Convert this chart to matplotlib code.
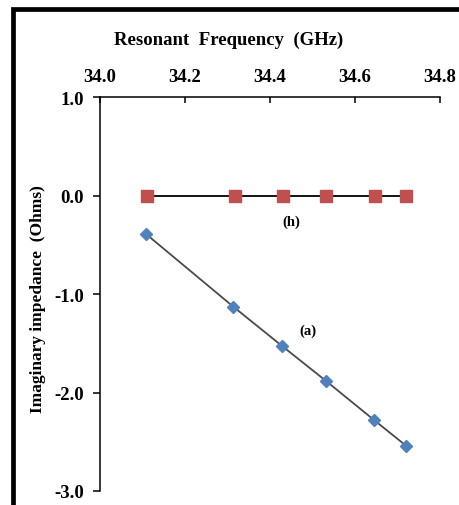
import matplotlib
matplotlib.use("Agg")
import matplotlib.pyplot as plt
from matplotlib.patches import Rectangle
from matplotlib.ticker import FormatStrFormatter

plt.rcParams['font.family'] = ['Liberation Serif', 'DejaVu Serif']
plt.rcParams['axes.unicode_minus'] = False

freq_h = [34.11, 34.318, 34.431, 34.532, 34.647, 34.72]
imag_h = [0.0, 0.0, 0.0, 0.0, 0.0, 0.0]
freq_a = [34.108, 34.314, 34.429, 34.531, 34.645, 34.72]
imag_a = [-0.39, -1.13, -1.53, -1.88, -2.28, -2.54]
x_ticks = [34.0, 34.2, 34.4, 34.6, 34.8]
y_ticks = [1.0, 0.0, -1.0, -2.0, -3.0]

W, H = 460, 506
fig = plt.figure(figsize=(W / 100, H / 100), dpi=100)
fig.patch.set_facecolor('white')

# thick outer frame
fig.add_artist(Rectangle((13 / W, -0.1), 1.2, 1 - 10 / H + 0.1,
                         transform=fig.transFigure, fill=False,
                         edgecolor='black', linewidth=3.4))

ax = fig.add_axes([100 / W, 14 / H, 340 / W, 394 / H])
ax.set_xlim(34.0, 34.8)
ax.set_ylim(-3.0, 1.0)

ax.plot(freq_h, imag_h, color='black', linewidth=1.3, marker='s',
        markersize=9, markerfacecolor='#C0504D', markeredgecolor='#C0504D',
        zorder=3)
ax.plot(freq_a, imag_a, color='#4a4a4a', linewidth=1.3, marker='D',
        markersize=6.6, markerfacecolor='#4F81BD', markeredgecolor='#4F81BD',
        zorder=3)

ax.text(34.45, -0.26, '(h)', fontsize=10.5, fontweight='bold', ha='center', va='center')
ax.text(34.49, -1.37, '(a)', fontsize=10.5, fontweight='bold', ha='center', va='center')

ax.spines['right'].set_visible(False)
ax.spines['bottom'].set_visible(False)
ax.spines['top'].set_linewidth(1.1)
ax.spines['left'].set_linewidth(1.1)

ax.xaxis.tick_top()
ax.set_xticks(x_ticks)
ax.set_yticks(y_ticks)
ax.xaxis.set_major_formatter(FormatStrFormatter('%.1f'))
ax.yaxis.set_major_formatter(FormatStrFormatter('%.1f'))
ax.tick_params(axis='x', direction='in', length=4.5, width=1.1, pad=9,
               labelsize=13.5)
ax.tick_params(axis='y', direction='out', length=5, width=1.1, pad=6.5,
               labelsize=13.5)
for lab in ax.get_xticklabels() + ax.get_yticklabels():
    lab.set_fontweight('bold')

fig.text(229 / W, 1 - 45 / H, 'Resonant  Frequency  (GHz)', fontsize=13.5,
         fontweight='bold', ha='center', va='baseline')
fig.text(38 / W, 1 - 299 / H, 'Imaginary impedance  (Ohms)', fontsize=12.5,
         fontweight='bold', ha='center', va='center', rotation=90)

fig.savefig('out.png', dpi=100)
